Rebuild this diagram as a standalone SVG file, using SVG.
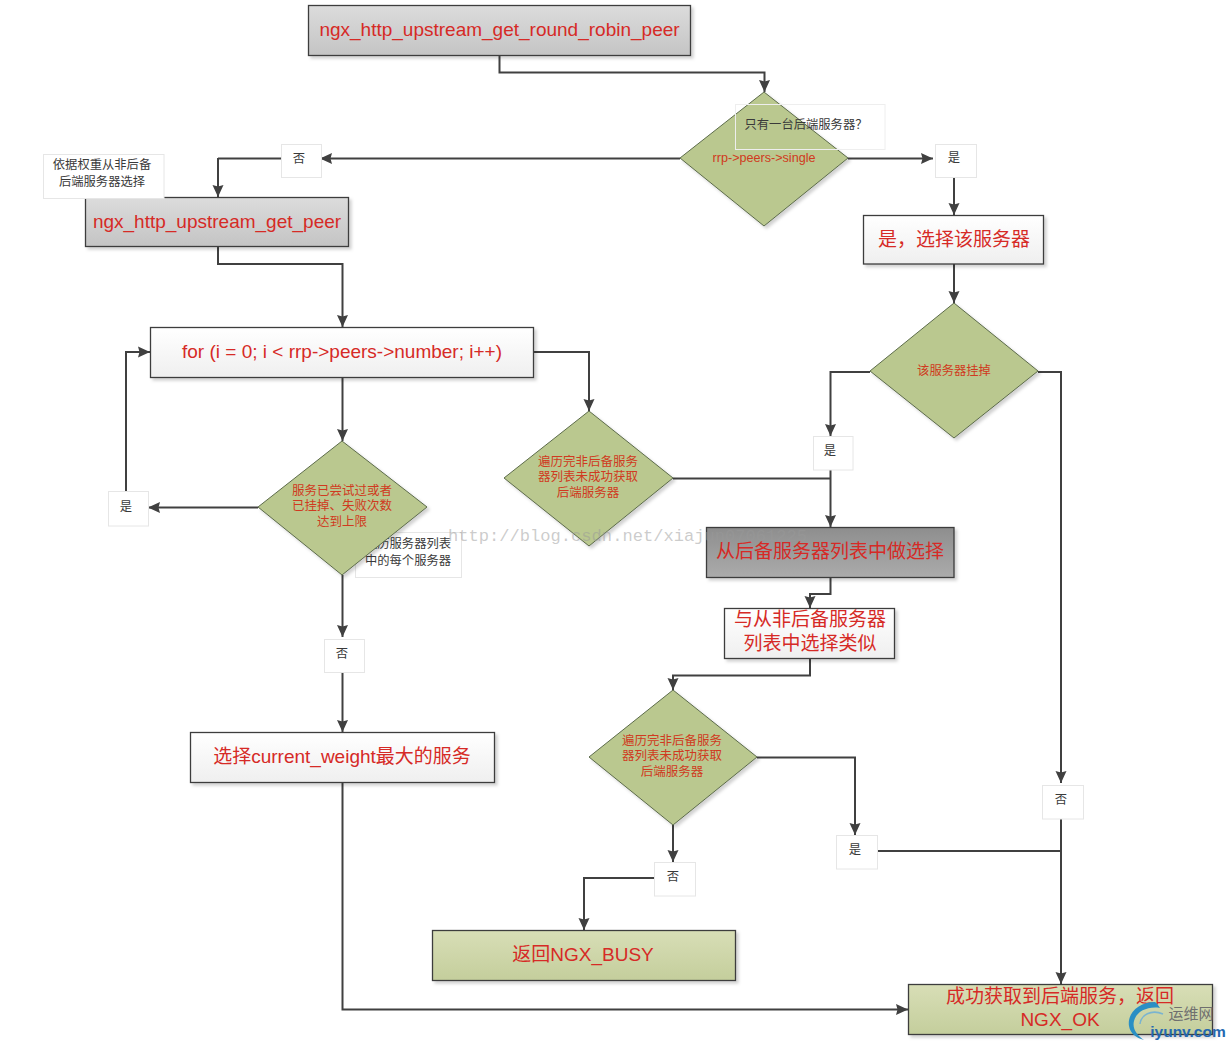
<svg xmlns="http://www.w3.org/2000/svg" width="1231" height="1048" viewBox="0 0 1231 1048">
<style>
text{font-family:"Liberation Sans","Noto Sans CJK SC",sans-serif;text-anchor:middle}
.big{font-size:19px;fill:#d62a26}
.small{font-size:12.500px;fill:#d03a20}
.lab{font-size:12.300px;fill:#3a3a3a}
.box{stroke:#3c3c3c;stroke-width:1.300;filter:url(#sh)}
.dia{fill:#bac88f;stroke:#5c6b4a;stroke-width:1;filter:url(#sh)}
.note{fill:#fff;stroke:#e6e6e6;stroke-width:1}
.conn path{fill:none;stroke:#404040;stroke-width:2}
.arr{marker-end:url(#ah)}
.grey{fill:url(#gGrey)}
.dark{fill:url(#gDark)}
.white{fill:url(#gWhite)}
.green{fill:url(#gGreen)}
</style>
<defs>
<linearGradient id="gGrey" x1="0" y1="0" x2="0" y2="1"><stop offset="0" stop-color="#dcdcdc"/><stop offset="1" stop-color="#c4c4c4"/></linearGradient>
<linearGradient id="gDark" x1="0" y1="0" x2="0" y2="1"><stop offset="0" stop-color="#8e8e8e"/><stop offset="1" stop-color="#ababab"/></linearGradient>
<linearGradient id="gWhite" x1="0" y1="0" x2="0" y2="1"><stop offset="0" stop-color="#ffffff"/><stop offset="1" stop-color="#efefef"/></linearGradient>
<linearGradient id="gGreen" x1="0" y1="0" x2="0" y2="1"><stop offset="0" stop-color="#d8deb6"/><stop offset="1" stop-color="#c4ce9c"/></linearGradient>
<marker id="ah" markerUnits="userSpaceOnUse" markerWidth="14" markerHeight="12" refX="12" refY="6" orient="auto"><path d="M0 0.500L12 6L0 11.500L1.500 6Z" fill="#404040"/></marker>
<filter id="sh" x="-5%" y="-5%" width="112%" height="118%"><feDropShadow dx="2.500" dy="2.500" stdDeviation="1.500" flood-color="#000" flood-opacity=".18"/></filter>
</defs>
<rect width="1231" height="1048" fill="#fff"/>

<g id="note-list"><rect class="note" x="355.500" y="532.500" width="106" height="45"/><text class="lab"><tspan x="408" y="548">遍历服务器列表</tspan><tspan x="408" y="565">中的每个服务器</tspan></text></g>

<g class="conn" id="connectors">
<path class="arr" d="M499.500 55V72.500H764.500V92"/>
<path class="arr" d="M680 158.500H320"/>
<path d="M281 158.500H218"/><path class="arr" d="M218 158V197"/>
<path class="arr" d="M218 247V264H342.500V327"/>
<path class="arr" d="M848 158.500H933"/>
<path class="arr" d="M954 175V215"/>
<path class="arr" d="M954 264V303"/>
<path class="arr" d="M870 372H830.500V436"/>
<path class="arr" d="M830.500 470V527"/>
<path class="arr" d="M1038 372H1061V783"/>
<path class="arr" d="M1061 819V984"/>
<path class="arr" d="M534 352H589V411"/>
<path d="M673 478.500H830"/>
<path class="arr" d="M830.500 577V594H810V608"/>
<path class="arr" d="M810 658V675.500H673V690"/>
<path class="arr" d="M673 825V862"/>
<path class="arr" d="M654 878H584V930"/>
<path class="arr" d="M757 757.500H855V835"/>
<path d="M877 851H1061"/>
<path class="arr" d="M342.500 377V441"/>
<path class="arr" d="M258 507.500H148"/>
<path class="arr" d="M126 491V352H150"/>
<path class="arr" d="M342.500 575V637"/>
<path class="arr" d="M342.500 672V732"/>
<path class="arr" d="M342.500 782V1009.500H908"/>
</g>

<g id="n-round-robin"><rect class="box grey" x="308.500" y="5.500" width="382" height="50"/><text class="big" x="499.500" y="36">ngx_http_upstream_get_round_robin_peer</text></g>
<g id="d-single"><polygon class="dia" points="764,92 848,158 764,226 680,158"/><text x="764" y="162" style="font-size:12.600px;fill:#d03a20">rrp-&gt;peers-&gt;single</text></g>
<g id="note-single"><rect x="735.500" y="104.500" width="149.500" height="45" fill="none" stroke="#eeeeee"/><text class="lab" x="806" y="129">只有一台后端服务器？</text></g>
<g id="l-no1"><rect class="note" x="281.500" y="144.500" width="40" height="33"/><text class="lab" x="299" y="163">否</text></g>
<g id="l-yes1"><rect class="note" x="935.500" y="144.500" width="41" height="33"/><text class="lab" x="954" y="162">是</text></g>
<g id="n-get-peer"><rect class="box grey" x="85.500" y="197.500" width="263" height="49"/><text class="big" x="217" y="228">ngx_http_upstream_get_peer</text></g>
<g id="note-weight"><rect class="note" x="43.500" y="154.500" width="120.500" height="44"/><text class="lab"><tspan x="102" y="169">依据权重从非后备</tspan><tspan x="102" y="186">后端服务器选择</tspan></text></g>
<g id="n-select"><rect class="box white" x="863.500" y="215.500" width="180" height="48.500"/><text class="big" x="954" y="246">是，选择该服务器</text></g>
<g id="d-down"><polygon class="dia" points="954,303 1038,371 954,438 870,371"/><text class="small" x="954" y="375" style="font-size:12.300px">该服务器挂掉</text></g>
<g id="l-yes2"><rect class="note" x="813.500" y="436.500" width="39.500" height="33.500"/><text class="lab" x="830" y="455">是</text></g>
<g id="n-for"><rect class="box white" x="150.500" y="327.500" width="383" height="50"/><text class="big" x="342" y="358">for (i = 0; i &lt; rrp-&gt;peers-&gt;number; i++)</text></g>
<g id="d-tried"><polygon class="dia" points="342,441 427,507 342,575 258,507"/><text class="small"><tspan x="342" y="495">服务已尝试过或者</tspan><tspan x="342" y="510">已挂掉、失败次数</tspan><tspan x="342" y="526">达到上限</tspan></text></g>
<g id="l-yes3"><rect class="note" x="108.500" y="491.500" width="40" height="34.500"/><text class="lab" x="126" y="511">是</text></g>
<g id="d-done1"><polygon class="dia" points="589,411 673,478 589,546 504,478"/><text class="small"><tspan x="588" y="466">遍历完非后备服务</tspan><tspan x="588" y="481">器列表未成功获取</tspan><tspan x="588" y="497">后端服务器</tspan></text></g>
<g id="n-backup"><rect class="box dark" x="706.500" y="527.500" width="247.500" height="50"/><text class="big" x="830" y="558">从后备服务器列表中做选择</text></g>
<g id="n-similar"><rect class="box white" x="724.500" y="608.500" width="170" height="50"/><text class="big"><tspan x="810" y="626">与从非后备服务器</tspan><tspan x="810" y="650">列表中选择类似</tspan></text></g>
<g id="l-no2"><rect class="note" x="324.500" y="639.500" width="40" height="33"/><text class="lab" x="342" y="658">否</text></g>
<g id="n-weight"><rect class="box white" x="190.500" y="732.500" width="304" height="50"/><text class="big" x="342" y="763">选择current_weight最大的服务</text></g>
<g id="d-done2"><polygon class="dia" points="673,690 757,757 673,825 589,757"/><text class="small"><tspan x="672" y="745">遍历完非后备服务</tspan><tspan x="672" y="760">器列表未成功获取</tspan><tspan x="672" y="776">后端服务器</tspan></text></g>
<g id="l-no3"><rect class="note" x="1042.500" y="785.500" width="41" height="33.500"/><text class="lab" x="1061" y="804">否</text></g>
<g id="l-yes4"><rect class="note" x="836.500" y="835.500" width="41" height="33.500"/><text class="lab" x="855" y="854">是</text></g>
<g id="l-no4"><rect class="note" x="654.500" y="862.500" width="41" height="33.500"/><text class="lab" x="673" y="881">否</text></g>
<g id="n-busy"><rect class="box green" x="432.500" y="930.500" width="303" height="50"/><text class="big" x="583" y="961">返回NGX_BUSY</text></g>
<g id="n-ok"><rect class="box green" x="908.500" y="984.500" width="304" height="50"/><text class="big"><tspan x="1060" y="1003">成功获取到后端服务，返回</tspan><tspan x="1060" y="1026">NGX_OK</tspan></text></g>

<text x="448" y="541" style="font-family:'Liberation Mono',monospace;font-size:17.100px;text-anchor:start;fill:#999;fill-opacity:.5">http://blog.csdn.net/xiajun07061225</text>

<g id="logo">
<path d="M1155 1002C1138 1002 1127 1014 1129 1026C1130 1033 1136 1038 1144 1040C1137 1035 1132 1029 1134 1021C1136 1012 1147 1006 1160 1008C1158 1005 1157 1003 1155 1002Z" fill="#2a8fc4"/>
<path d="M1140 1024C1141 1015 1151 1009 1163 1014" fill="none" stroke="#7ab4d0" stroke-width="1.500"/>
<text x="1191" y="1019" style="font-size:15px;fill:#6f6f6f">运维网</text>
<text x="1188" y="1037" style="font-size:15.500px;font-weight:bold;fill:#2468b0">iyunv.com</text>
</g>
</svg>
